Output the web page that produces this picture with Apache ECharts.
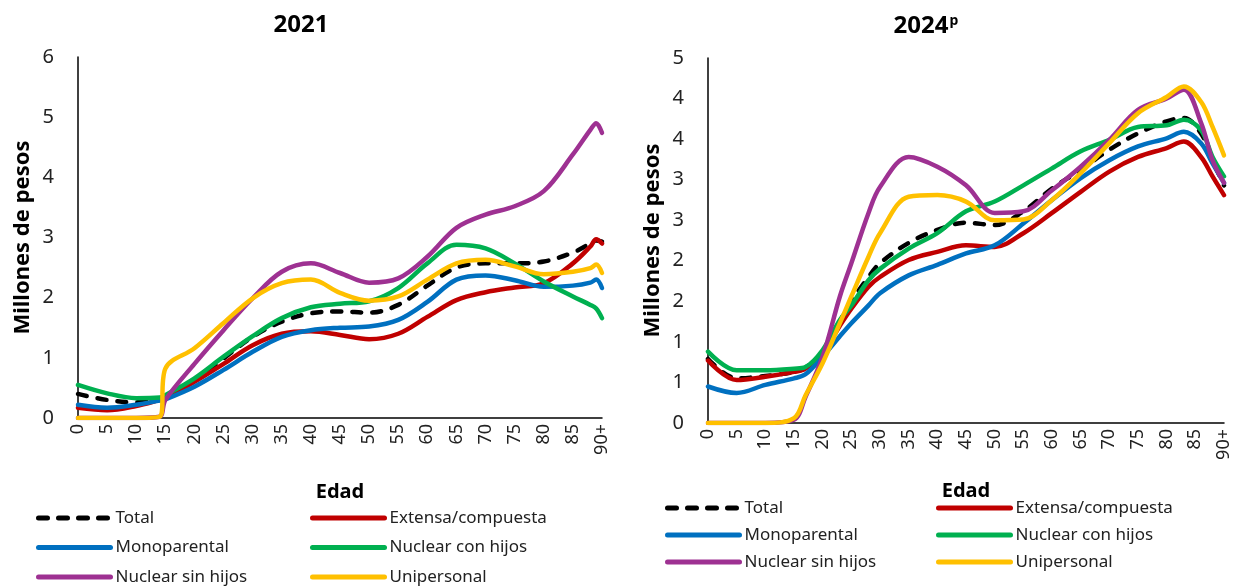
<!DOCTYPE html>
<html><head><meta charset="utf-8">
<script src="https://cdn.jsdelivr.net/npm/echarts@6/dist/echarts.min.js"></script>
<style>html,body{margin:0;padding:0;background:#fff}#c{width:1233px;height:588px}</style>
</head><body><div id="c"></div>
<script>
// ---- data ----
const seriesNames = ['Total','Extensa/compuesta','Monoparental','Nuclear con hijos','Nuclear sin hijos','Unipersonal'];
const xTickLabels = ['0','5','10','15','20','25','30','35','40','45','50','55','60','65','70','75','80','85','90+'];
const yTickLabels2021 = ['0','1','2','3','4','5','6'];
const yTickLabels2024 = ['0','1','1','2','2','3','3','4','4','5'];

const ages2021 = [0,5,10,14,15,20,25,30,35,40,45,50,55,60,65,70,75,80,85,88,89,90];
const total2021 = [0.40,0.30,0.26,0.30,0.33,0.62,0.99,1.35,1.60,1.74,1.77,1.75,1.88,2.20,2.50,2.57,2.57,2.60,2.75,2.90,2.95,2.93];
const ext2021   = [0.17,0.13,0.20,0.30,0.33,0.60,0.90,1.21,1.40,1.44,1.38,1.31,1.40,1.68,1.96,2.09,2.17,2.24,2.57,2.85,2.97,2.90];
const mono2021  = [0.22,0.17,0.22,0.29,0.31,0.52,0.80,1.10,1.35,1.46,1.50,1.52,1.63,1.93,2.30,2.37,2.29,2.18,2.20,2.25,2.30,2.16];
const ncon2021  = [0.55,0.41,0.33,0.34,0.38,0.66,1.02,1.36,1.66,1.84,1.90,1.94,2.16,2.57,2.88,2.82,2.57,2.27,2.02,1.88,1.82,1.66];
const nsin2021  = [0,0,0,0.02,0.30,0.90,1.46,1.99,2.43,2.57,2.41,2.25,2.32,2.68,3.16,3.38,3.52,3.77,4.38,4.79,4.90,4.74];
const uni2021   = [0,0,0,0.02,0.82,1.16,1.58,1.99,2.24,2.30,2.08,1.95,2.02,2.30,2.57,2.63,2.52,2.39,2.43,2.49,2.55,2.41];

const ages2024 = [0,5,10,15,17,20,23,25,28,30,35,40,45,50,55,60,65,70,75,80,83,86,88,90];
const total2024 = [0.79,0.55,0.58,0.63,0.68,0.88,1.25,1.50,1.80,1.97,2.22,2.38,2.47,2.44,2.61,2.89,3.12,3.37,3.57,3.72,3.76,3.57,3.24,2.93];
const ext2024   = [0.77,0.53,0.57,0.63,0.67,0.86,1.20,1.41,1.68,1.80,2.01,2.11,2.19,2.17,2.34,2.59,2.85,3.10,3.28,3.39,3.47,3.28,3.04,2.81];
const mono2024  = [0.45,0.37,0.47,0.55,0.60,0.82,1.07,1.23,1.45,1.60,1.82,1.95,2.09,2.19,2.46,2.75,3.02,3.24,3.41,3.51,3.59,3.45,3.20,2.96];
const ncon2024  = [0.88,0.65,0.65,0.67,0.69,0.90,1.27,1.45,1.76,1.90,2.15,2.34,2.61,2.73,2.93,3.14,3.35,3.49,3.65,3.67,3.74,3.61,3.28,3.04];
const nsin2024  = [0,0,0,0.04,0.32,0.82,1.56,1.97,2.59,2.91,3.28,3.16,2.93,2.59,2.61,2.87,3.16,3.49,3.86,4.00,4.11,3.70,3.24,2.96];
const uni2024   = [0,0,0,0.06,0.34,0.74,1.23,1.56,2.05,2.34,2.79,2.81,2.73,2.50,2.51,2.75,3.08,3.45,3.82,4.02,4.15,3.96,3.65,3.30];

// ---- styling ----
const colors = ['#000000','#C00000','#0070C0','#00B050','#9E3192','#FFC000'];
const FONT = 'Noto Sans';
const data2021 = [total2021, ext2021, mono2021, ncon2021, nsin2021, uni2021];
const data2024 = [total2024, ext2024, mono2024, ncon2024, nsin2024, uni2024];

function mkSeries(ages, arrs, idx) {
  return arrs.map((vals, i) => ({
    name: seriesNames[i],
    type: 'line',
    xAxisIndex: idx, yAxisIndex: idx,
    data: ages.map((a, k) => [a, vals[k]]),
    smooth: 0.35,
    symbol: 'none',
    z: 2 + i,
    lineStyle: {
      color: colors[i], width: 4.5,
      type: i === 0 ? [9, 11] : 'solid',
      cap: 'round', join: 'round'
    },
    itemStyle: { color: colors[i] }
  }));
}

function xAx(gi, gap) {
  return {
    gridIndex: gi, type: 'value', min: 0, max: 90, interval: 5,
    axisLine: { show: true, lineStyle: { color: '#000', width: 1.5 } },
    axisTick: { show: false }, splitLine: { show: false },
    axisLabel: { rotate: 90, fontSize: 18, color: '#222', fontFamily: FONT, margin: 6,
      showMinLabel: true, showMaxLabel: true,
      formatter: v => xTickLabels[Math.round(v / 5)] },
    name: 'Edad', nameLocation: 'middle', nameGap: gap,
    nameTextStyle: { fontSize: 20, fontWeight: 'bold', color: '#000', fontFamily: FONT }
  };
}
function yAx(gi, max, interval, labels) {
  return {
    gridIndex: gi, type: 'value', min: 0, max: max, interval: interval,
    axisLine: { show: true, lineStyle: { color: '#000', width: 1.5 } },
    axisTick: { show: false }, splitLine: { show: false },
    axisLabel: { fontSize: 20, color: '#222', fontFamily: FONT, margin: 24,
      showMinLabel: true, showMaxLabel: true,
      formatter: v => labels[Math.round(v / interval)] },
    name: 'Millones de pesos', nameLocation: 'middle', nameGap: 44,
    nameTextStyle: { fontSize: 22, fontWeight: 'bold', color: '#000', fontFamily: FONT }
  };
}
function lg(left, top, gap, names) {
  return {
    left: left, top: top, orient: 'vertical', padding: 0, height: 85,
    itemWidth: 72, itemHeight: 14, itemGap: gap,
    data: names,
    textStyle: { fontSize: 17, color: '#222', fontFamily: FONT, lineHeight: 18 },
    itemStyle: { opacity: 0 },
    lineStyle: { width: 5 }
  };
}

const chart = echarts.init(document.getElementById('c'));
chart.setOption({
  animation: false,
  backgroundColor: '#fff',
  textStyle: { fontFamily: FONT },
  title: [
    { text: '2021', left: 296, top: 8, textAlign: 'center',
      textStyle: { fontSize: 24, fontWeight: 'bold', color: '#000', fontFamily: FONT } },
    { text: '{b|2024}{p|p}', left: 921, top: 9, textAlign: 'center',
      textStyle: { rich: {
        b: { fontSize: 24, fontWeight: 'bold', color: '#000', fontFamily: FONT },
        p: { fontSize: 14, fontWeight: 'bold', color: '#000', fontFamily: FONT, verticalAlign: 'top', padding: [0, 0, 10, 1] }
      } } }
  ],
  grid: [
    { left: 78, top: 57, width: 524, height: 361 },
    { left: 708, top: 58, width: 517, height: 365 }
  ],
  xAxis: [xAx(0, 64), xAx(1, 58)],
  yAxis: [yAx(0, 6, 1, yTickLabels2021), yAx(1, 4.5, 0.5, yTickLabels2024)],
  legend: [
    lg(36, 509, 11.5, ['Total','Monoparental','Nuclear sin hijos']),
    lg(310, 509, 11.5, ['Extensa/compuesta','Nuclear con hijos','Unipersonal']),
    lg(665, 499, 9, ['Total','Monoparental','Nuclear sin hijos']),
    lg(936, 499, 9, ['Extensa/compuesta','Nuclear con hijos','Unipersonal'])
  ],
  series: mkSeries(ages2021, data2021, 0).concat(mkSeries(ages2024, data2024, 1))
});
</script></body></html>
